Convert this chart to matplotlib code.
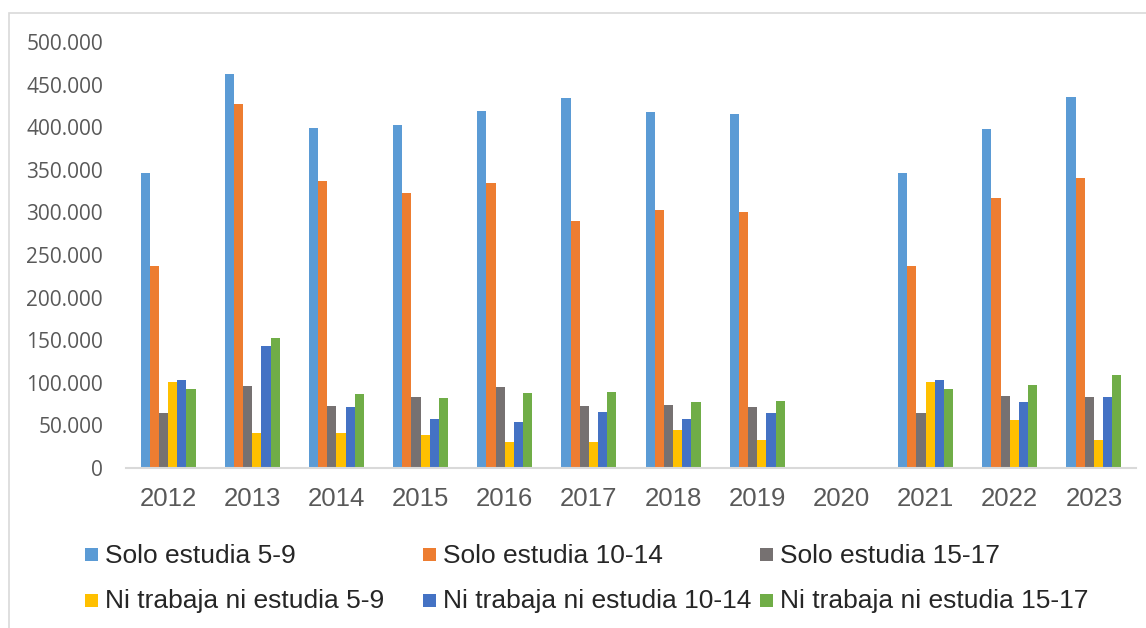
import matplotlib
matplotlib.use("Agg")
import matplotlib.pyplot as plt
import numpy as np
from matplotlib.patches import Rectangle

plt.rcParams['font.family'] = ['Liberation Sans', 'DejaVu Sans']

years = ["2012", "2013", "2014", "2015", "2016", "2017", "2018", "2019", "2020", "2021", "2022", "2023"]
series_names = ["Solo estudia 5-9", "Solo estudia 10-14", "Solo estudia 15-17",
                "Ni trabaja ni estudia 5-9", "Ni trabaja ni estudia 10-14", "Ni trabaja ni estudia 15-17"]
solo_5_9 = [346000, 462000, 399000, 403000, 419000, 434000, 418000, 415000, np.nan, 346000, 398000, 435000]
solo_10_14 = [237000, 427000, 337000, 323000, 335000, 290000, 303000, 301000, np.nan, 237000, 317000, 340000]
solo_15_17 = [64000, 96000, 73000, 83000, 95000, 73000, 74000, 72000, np.nan, 64000, 84000, 83000]
ni_5_9 = [101000, 41500, 40500, 38700, 30000, 30500, 44600, 33000, np.nan, 101000, 56700, 33000]
ni_10_14 = [103000, 143000, 71600, 57500, 54500, 66000, 57000, 65000, np.nan, 103000, 78000, 83000]
ni_15_17 = [92700, 152600, 86500, 82000, 88000, 88800, 77500, 79000, np.nan, 92700, 97400, 109500]

colors = ["#5B9BD5", "#ED7D31", "#767171", "#FFC000", "#4472C4", "#70AD47"]
data = [solo_5_9, solo_10_14, solo_15_17, ni_5_9, ni_10_14, ni_15_17]

W, H = 1146, 628
fig = plt.figure(figsize=(W / 100, H / 100), dpi=100)
# chart border
fig.patches.append(Rectangle((9 / W, -0.1), 1.2, 1 - 13 / H + 0.1, transform=fig.transFigure,
                             fill=False, edgecolor="#d9d9d9", linewidth=1.2))

left, right, bottom, top = 126 / W, 1136 / W, 468 / H, 42 / H
ax = fig.add_axes([left, 1 - bottom, right - left, bottom - top])

x = np.arange(len(years))
bw = 0.109
for i, (vals, c) in enumerate(zip(data, colors)):
    ax.bar(x + (i - 2.5) * bw, vals, width=bw, color=c, linewidth=0, label=series_names[i])

ax.set_xlim(-0.5, len(years) - 0.5)
ax.set_ylim(0, 500000)
ax.set_yticks(np.arange(0, 500001, 50000))
ax.set_yticklabels(["0" if v == 0 else f"{v:,}".replace(",", ".") for v in range(0, 500001, 50000)],
                   fontfamily=["Open Sans", "DejaVu Sans"])
ax.set_xticks(x)
ax.set_xticklabels(years)
for s in ["top", "right", "left"]:
    ax.spines[s].set_visible(False)
ax.spines["bottom"].set_color("#d9d9d9")
ax.spines["bottom"].set_linewidth(1.5)
ax.tick_params(axis="y", length=0, pad=16.5, labelsize=15, labelcolor="#595959")
ax.tick_params(axis="x", length=0, pad=14, labelsize=18.5, labelcolor="#595959")

# legend (row-major, 3 columns)
col_x = [85, 423, 760]
row_marker_top = [548, 594]
row_baseline = [563, 608]
msz = 13
for i, name in enumerate(series_names):
    r, cidx = divmod(i, 3)
    px = col_x[cidx]
    fig.patches.append(Rectangle((px / W, 1 - (row_marker_top[r] + msz) / H), msz / W, msz / H,
                                 transform=fig.transFigure, facecolor=colors[i], edgecolor="none"))
    fig.text((px + 20) / W, 1 - row_baseline[r] / H, name, fontsize=19, color="#262626",
             va="baseline", ha="left")

fig.savefig("out.png", dpi=100)
